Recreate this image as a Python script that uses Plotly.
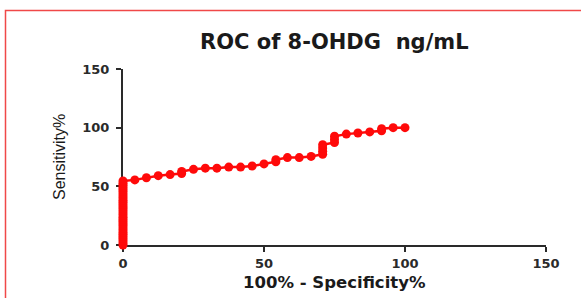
import plotly.graph_objects as go

# ROC curve points (100% - Specificity%, Sensitivity%)
fpr = [0, 0, 0, 0, 0, 0, 0, 0, 0, 0, 0, 0, 0, 0, 0, 0,
       0, 0, 0, 0, 0, 0, 0, 0, 0, 0, 0, 0, 0, 0, 0,
       4.2, 8.3, 12.5, 16.7, 20.8, 20.8, 25.0, 29.2, 33.3, 37.5, 41.7, 45.8,
       50.0, 54.2, 54.2, 58.3, 62.5, 66.7, 70.8, 70.8, 70.8, 70.8,
       75.0, 75.0, 75.0, 79.2, 83.3, 87.5, 91.7, 91.7, 95.8, 100.0]
tpr = [0, 1.8, 3.6, 5.5, 7.3, 9.1, 10.9, 12.7, 14.5, 16.4, 18.2, 20.0, 21.8, 23.6, 25.5, 27.3,
       29.1, 30.9, 32.7, 34.5, 36.4, 38.2, 40.0, 41.8, 43.6, 45.5, 47.3, 49.1, 50.9, 52.7, 54.5,
       55.5, 57.3, 59.1, 60.0, 60.9, 62.7, 64.5, 65.5, 65.5, 66.4, 66.4, 67.3,
       69.1, 70.9, 72.7, 74.5, 74.5, 75.5, 77.3, 80.0, 82.7, 85.5,
       87.3, 90.0, 92.7, 94.5, 95.5, 96.4, 97.3, 99.1, 100.0, 100.0]

x_ticks = [0, 50, 100, 150]
y_ticks = [0, 50, 100, 150]

title_text = "ROC of 8-OHDG  ng/mL"
x_title = "100% - Specificity%"
y_title = "Sensitivity%"

RED = "#ff0a0a"
AX = "#2a2a2a"
BOLD = "DejaVu Sans"

fig = go.Figure()
fig.add_trace(go.Scatter(
    x=fpr, y=tpr, mode="lines+markers",
    line=dict(color=RED, width=2.5),
    marker=dict(color=RED, size=9, line=dict(width=0)),
    cliponaxis=False, showlegend=False, hoverinfo="skip",
))

axis_common = dict(
    showgrid=False, zeroline=False, showline=True, linecolor=AX, linewidth=2,
    ticks="outside", ticklen=5, tickwidth=2, tickcolor=AX,
    tickfont=dict(family=BOLD, size=13, color=AX, weight="bold"),
    range=[0, 150], fixedrange=True, layer="below traces",
)
fig.update_xaxes(tickvals=x_ticks, ticktext=[str(v) for v in x_ticks], ticklabelstandoff=0, **axis_common)
fig.update_yaxes(tickvals=y_ticks, ticktext=[str(v) for v in y_ticks], ticklabelstandoff=4, **axis_common)

W, H = 581, 298
L, R, T, B = 123, 35, 69, 53
pw, ph = W - L - R, H - T - B

def px_x(p):
    return (p - L) / pw

def px_y(p):
    return (H - B - p) / ph

fig.update_layout(
    width=W, height=H,
    margin=dict(l=L, r=R, t=T, b=B),
    paper_bgcolor="white", plot_bgcolor="white",
    annotations=[
        dict(text=title_text, x=px_x(334), y=px_y(42), xref="paper", yref="paper",
             showarrow=False, xanchor="center", yanchor="middle",
             font=dict(family=BOLD, size=21, color="#1a1a1a", weight="bold")),
        dict(text=x_title, x=px_x(334), y=px_y(282), xref="paper", yref="paper",
             showarrow=False, xanchor="center", yanchor="middle",
             font=dict(family=BOLD, size=16.5, color="#1a1a1a", weight="bold")),
        dict(text=y_title, x=px_x(59), y=px_y(157), xref="paper", yref="paper",
             showarrow=False, xanchor="center", yanchor="middle", textangle=-90,
             font=dict(family="Liberation Sans", size=16, color="#1a1a1a")),
    ],
    shapes=[
        dict(type="rect", xref="paper", yref="paper",
             x0=px_x(5.5), y0=px_y(320), x1=px_x(600), y1=px_y(10.5),
             line=dict(color="#f04848", width=1.5), layer="below"),
    ],
)

fig.write_html("out.html", config={"displayModeBar": False},
               post_script="document.body.style.margin='0';")
